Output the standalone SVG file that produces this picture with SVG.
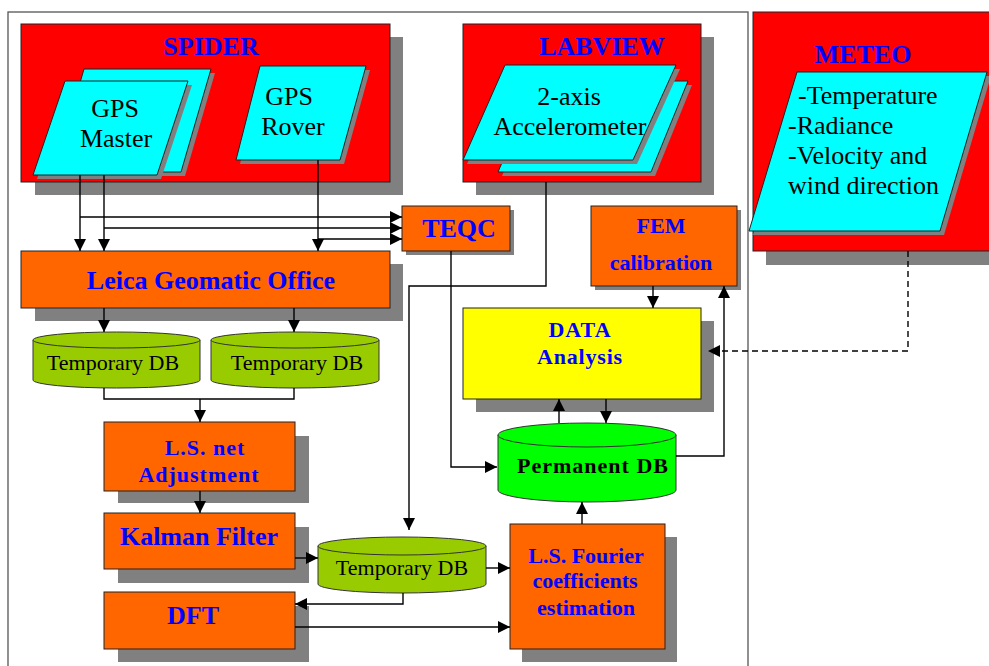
<svg xmlns="http://www.w3.org/2000/svg" width="989" height="666" viewBox="0 0 989 666">
<style>
.sh{fill:#808080}
.red{fill:#FF0000;stroke:#222;stroke-width:1}
.cy{fill:#00FFFF;stroke:#222;stroke-width:1}
.or{fill:#FF6600;stroke:#222;stroke-width:1}
.ye{fill:#FFFF00;stroke:#222;stroke-width:1}
.ol{fill:#99CC00;stroke:#333;stroke-width:1}
.gr{fill:#00FF00;stroke:#333;stroke-width:1}
.tb{font-family:"Liberation Serif","Times New Roman",serif;font-weight:bold;fill:#0000FF;text-anchor:middle}
.tr{font-family:"Liberation Serif","Times New Roman",serif;fill:#000;font-size:26px}
.tk{font-family:"Liberation Serif","Times New Roman",serif;fill:#000;font-size:22px;text-anchor:middle}
.c{fill:none;stroke:#000;stroke-width:1.4}
</style>
<defs>
<marker id="ah" markerUnits="userSpaceOnUse" markerWidth="14" markerHeight="14" refX="12" refY="7" orient="auto">
<path d="M0,1 L12,7 L0,13 Z" fill="#000"/>
</marker>
</defs>
<rect width="989" height="666" fill="#fff"/>
<rect x="8" y="12" width="740" height="660" fill="none" stroke="#555" stroke-width="1.3"/>

<g id="spider">
<rect class="sh" x="35" y="37" width="368" height="158"/>
<rect class="red" x="21" y="24" width="369" height="158"/>
<text class="tb" x="211" y="55" font-size="26">SPIDER</text>
</g>
<g id="gps-master">
<polygon class="sh" points="88,73 215,73 185,176 58,176"/>
<polygon class="cy" points="84,69 211,69 181,172 54,172"/>
<polygon class="sh" points="69,85 192,85 161,179 37,179"/>
<polygon class="cy" points="65,81 188,81 157,175 33,175"/>
<text class="tr" x="115" y="117" text-anchor="middle">GPS</text>
<text class="tr" x="116" y="147" text-anchor="middle">Master</text>
</g>
<g id="gps-rover">
<polygon class="sh" points="264,70 370,70 344,164 240,164"/>
<polygon class="cy" points="260,66 366,66 340,160 236,160"/>
<text class="tr" x="289" y="105" text-anchor="middle">GPS</text>
<text class="tr" x="293" y="135" text-anchor="middle">Rover</text>
</g>

<g id="labview">
<rect class="sh" x="476" y="37" width="238" height="158"/>
<rect class="red" x="463" y="24" width="238" height="158"/>
<text class="tb" x="602" y="55" font-size="26">LABVIEW</text>
</g>
<g id="accelerometer">
<polygon class="sh" points="541,85 692,85 655,176 502,176"/>
<polygon class="cy" points="537,81 688,81 651,172 498,172"/>
<polygon class="sh" points="509,69 680,69 637,164 467,164"/>
<polygon class="cy" points="505,65 676,65 633,160 463,160"/>
<text class="tr" x="569" y="105" text-anchor="middle">2-axis</text>
<text class="tr" x="570" y="135" text-anchor="middle">Accelerometer</text>
</g>

<g id="meteo">
<rect class="sh" x="766" y="25" width="230" height="240"/>
<rect class="red" x="753" y="12" width="240" height="239"/>
<text class="tb" x="863" y="63" font-size="26">METEO</text>
<polygon class="sh" points="801,76 991,76 944,235 753,235"/>
<polygon class="cy" points="797,72 987,72 940,231 749,231"/>
<text class="tr" x="798" y="104">-Temperature</text>
<text class="tr" x="788" y="134">-Radiance</text>
<text class="tr" x="788" y="164">-Velocity and</text>
<text class="tr" x="788" y="194">wind direction</text>
</g>

<g id="teqc">
<rect class="sh" x="406" y="210" width="108" height="45"/>
<rect class="or" x="402" y="206" width="108" height="45"/>
<text class="tb" x="459" y="237" font-size="26">TEQC</text>
</g>

<g id="leica">
<rect class="sh" x="35" y="264" width="368" height="57"/>
<rect class="or" x="21" y="251" width="369" height="57"/>
<text class="tb" x="211" y="289" font-size="26">Leica Geomatic Office</text>
</g>

<g id="fem">
<rect class="sh" x="595" y="210" width="146" height="80"/>
<rect class="or" x="591" y="206" width="146" height="80"/>
<text class="tb" x="661" y="233" font-size="22">FEM</text>
<text class="tb" x="661" y="270" font-size="22">calibration</text>
</g>

<g id="data-analysis">
<rect class="sh" x="476" y="321" width="238" height="91"/>
<rect class="ye" x="463" y="308" width="238" height="91"/>
<text class="tb" x="580" y="337" font-size="22" letter-spacing="1">DATA</text>
<text class="tb" x="580" y="364" font-size="22" letter-spacing="0.8">Analysis</text>
</g>

<g id="tempdb1">
<path class="ol" d="M33,340 A83.5,8 0 0 1 200,340 V380 A83.5,8 0 0 1 33,380 Z"/>
<path class="ol" d="M33,340 A83.5,8 0 0 0 200,340"/>
<text class="tk" x="113" y="370">Temporary DB</text>
</g>
<g id="tempdb2">
<path class="ol" d="M211,340 A84,8 0 0 1 379,340 V380 A84,8 0 0 1 211,380 Z"/>
<path class="ol" d="M211,340 A84,8 0 0 0 379,340"/>
<text class="tk" x="297" y="370">Temporary DB</text>
</g>

<g id="permanent-db">
<path class="gr" d="M498,435 A89,12 0 0 1 676,435 V490 A89,12 0 0 1 498,490 Z"/>
<path class="gr" d="M498,435 A89,12 0 0 0 676,435"/>
<text class="tb" x="593" y="473" font-size="22" letter-spacing="1" style="fill:#000">Permanent DB</text>
</g>

<g id="ls-net">
<rect class="sh" x="118" y="436" width="191" height="67"/>
<rect class="or" x="104" y="422" width="191" height="69"/>
<text class="tb" x="205" y="455" font-size="22" letter-spacing="1">L.S. net</text>
<text class="tb" x="199" y="482" font-size="22" letter-spacing="1">Adjustment</text>
</g>

<g id="kalman">
<rect class="sh" x="118" y="527" width="191" height="56"/>
<rect class="or" x="104" y="513" width="191" height="56"/>
<text class="tb" x="199" y="545" font-size="26">Kalman Filter</text>
</g>

<g id="dft">
<rect class="sh" x="118" y="606" width="191" height="56"/>
<rect class="or" x="104" y="592" width="191" height="57"/>
<text class="tb" x="193" y="624" font-size="26">DFT</text>
</g>

<g id="tempdb3">
<path class="ol" d="M318,546 A84,9 0 0 1 486,546 V584 A84,9 0 0 1 318,584 Z"/>
<path class="ol" d="M318,546 A84,9 0 0 0 486,546"/>
<text class="tk" x="402" y="575">Temporary DB</text>
</g>

<g id="ls-fourier">
<rect class="sh" x="522" y="537" width="155" height="125"/>
<rect class="or" x="510" y="524" width="155" height="125"/>
<text class="tb" x="586" y="563" font-size="22">L.S. Fourier</text>
<text class="tb" x="585" y="588" font-size="22">coefficients</text>
<text class="tb" x="586" y="615" font-size="22">estimation</text>
</g>

<g id="connectors">
<path class="c" d="M80,175 V251" marker-end="url(#ah)"/>
<path class="c" d="M104,175 V251" marker-end="url(#ah)"/>
<path class="c" d="M318,160 V251" marker-end="url(#ah)"/>
<path class="c" d="M80,217 H402" marker-end="url(#ah)"/>
<path class="c" d="M104,228 H402" marker-end="url(#ah)"/>
<path class="c" d="M318,239 H402" marker-end="url(#ah)"/>
<path class="c" d="M104,308 V332" marker-end="url(#ah)"/>
<path class="c" d="M294,308 V332" marker-end="url(#ah)"/>
<path class="c" d="M104,388 V399 H294 V388"/>
<path class="c" d="M200,399 V422" marker-end="url(#ah)"/>
<path class="c" d="M200,491 V513" marker-end="url(#ah)"/>
<path class="c" d="M295,558 H318" marker-end="url(#ah)"/>
<path class="c" d="M403,593 V604 H295" marker-end="url(#ah)"/>
<path class="c" d="M295,627 H510" marker-end="url(#ah)"/>
<path class="c" d="M486,568 H510" marker-end="url(#ah)"/>
<path class="c" d="M546,182 V286 H409 V530" marker-end="url(#ah)"/>
<path class="c" d="M451,251 V467 H497" marker-end="url(#ah)"/>
<path class="c" d="M582,524 V502" marker-end="url(#ah)"/>
<path class="c" d="M559,423 V399" marker-end="url(#ah)"/>
<path class="c" d="M606,399 V423" marker-end="url(#ah)"/>
<path class="c" d="M653,286 V308" marker-end="url(#ah)"/>
<path class="c" d="M676,456 H724 V286" marker-end="url(#ah)"/>
<path class="c" d="M908,251 V351 H708" stroke-dasharray="6,4" marker-end="url(#ah)"/>
</g>
</svg>
